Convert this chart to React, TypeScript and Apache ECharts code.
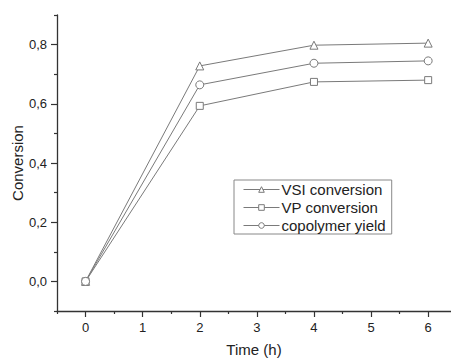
import React, { useEffect, useRef } from "react";
import * as echarts from "echarts";

const times = [0, 2, 4, 6];
const vsiConversion = [0, 0.728, 0.798, 0.805];
const vpConversion = [0, 0.593, 0.674, 0.68];
const copolymerYield = [0, 0.664, 0.737, 0.745];

const yMajor = [0, 0.2, 0.4, 0.6, 0.8];
const yMinor = [-0.1, 0.1, 0.3, 0.5, 0.7, 0.9];
const xMajor = [0, 1, 2, 3, 4, 5, 6];
const xMinor = [-0.5, 0.5, 1.5, 2.5, 3.5, 4.5, 5.5];

const FONT = "Liberation Sans, Arial, sans-serif";
const AXIS = "#333";
const LINE = "#7a7a7a";

const pairs = (ys: number[]) => times.map((t, i) => [t, ys[i]]);

export default function App() {
  const ref = useRef<HTMLDivElement>(null);
  useEffect(() => {
    const chart = echarts.init(ref.current!, null, { renderer: "svg" });
    const baseY = {
      type: "value" as const,
      min: -0.1,
      max: 0.9,
      splitLine: { show: false },
    };
    const baseX = {
      type: "value" as const,
      min: -0.5,
      max: 6.4,
      splitLine: { show: false },
    };
    const series = (name: string, ys: number[], symbol: string) => ({
      name,
      type: "line",
      data: pairs(ys),
      symbol,
      symbolSize: symbol === "rect" ? 7 : 8,
      showAllSymbol: true,
      lineStyle: { color: LINE, width: 1 },
      itemStyle: { color: "#fff", borderColor: LINE, borderWidth: 1 },
      z: 3,
    });
    chart.setOption({
      animation: false,
      backgroundColor: "#fff",
      grid: {
        left: 57,
        top: 15,
        right: 0,
        bottom: 47,
        containLabel: false,
        outerBoundsMode: "none",
      },
      xAxis: [
        {
          ...baseX,
          name: "Time (h)",
          nameLocation: "middle",
          nameGap: 31,
          nameMoveOverlap: false,
          nameTextStyle: { fontFamily: FONT, fontSize: 15, color: "#222" },
          axisLine: { onZero: false, lineStyle: { color: AXIS, width: 1.3 } },
          axisTick: { show: true, inside: false, customValues: xMajor, length: 6, lineStyle: { color: AXIS, width: 1.2 } },
          axisLabel: {
            customValues: xMajor,
            fontFamily: FONT,
            fontSize: 13,
            color: "#222",
            margin: 10,
          },
        },
        {
          ...baseX,
          position: "bottom",
          axisLine: { show: false, onZero: false },
          axisTick: { show: true, inside: false, customValues: xMinor, length: 3, lineStyle: { color: AXIS, width: 1.2 } },
          axisLabel: { show: false },
        },
      ],
      yAxis: [
        {
          ...baseY,
          name: "Conversion",
          nameLocation: "middle",
          nameGap: 32,
          nameMoveOverlap: false,
          nameTextStyle: { fontFamily: FONT, fontSize: 15, color: "#222" },
          axisLine: { show: true, onZero: false, lineStyle: { color: AXIS, width: 1.3 } },
          axisTick: { show: true, inside: false, customValues: yMajor, length: 6, lineStyle: { color: AXIS, width: 1.2 } },
          axisLabel: {
            customValues: yMajor,
            fontFamily: FONT,
            fontSize: 13,
            color: "#222",
            margin: 10,
            formatter: (v: number) => v.toFixed(1).replace(".", ","),
          },
        },
        {
          ...baseY,
          position: "left",
          axisLine: { show: false, onZero: false },
          axisTick: { show: true, inside: false, customValues: yMinor, length: 3, lineStyle: { color: AXIS, width: 1.2 } },
          axisLabel: { show: false },
        },
      ],
      legend: {
        left: 234,
        top: 180,
        orient: "vertical",
        width: 163,
        height: 61,
        padding: [2, 6, 1, 9],
        itemGap: 3,
        itemWidth: 36,
        itemHeight: 7,
        borderColor: "#888",
        borderWidth: 1,
        borderRadius: 0,
        itemStyle: { color: "#fff", borderColor: LINE, borderWidth: 1 },
        lineStyle: { color: LINE, width: 1 },
        textStyle: { fontFamily: FONT, fontSize: 15, color: "#222", padding: [0, 0, 0, -3] },
        data: ["VSI conversion", "VP conversion", "copolymer yield"],
      },
      series: [
        series("VSI conversion", vsiConversion, "triangle"),
        series("VP conversion", vpConversion, "rect"),
        series("copolymer yield", copolymerYield, "circle"),
      ],
    });
    return () => chart.dispose();
  }, []);
  return (
    <div
      ref={ref}
      style={{ position: "fixed", left: 0, top: 0, width: 451, height: 358 }}
    />
  );
}
